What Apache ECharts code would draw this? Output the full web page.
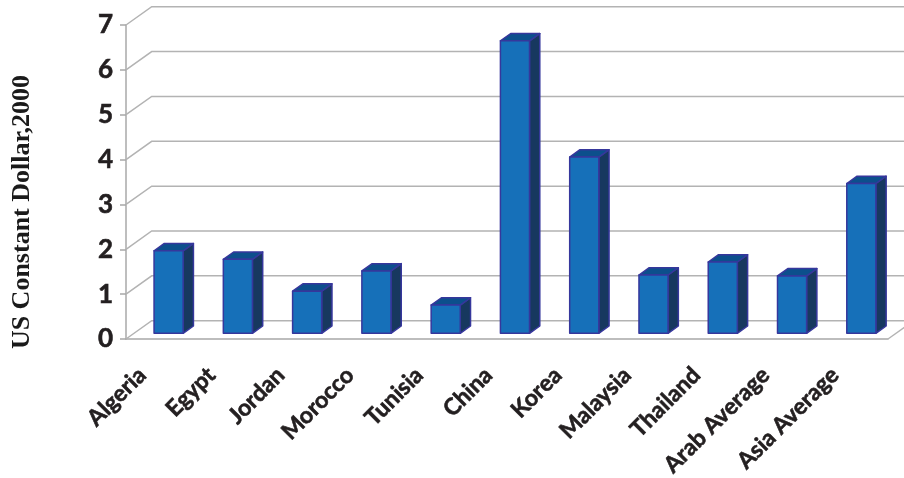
<!DOCTYPE html>
<html>
<head>
<meta charset="utf-8">
<title>US Constant Dollar, 2000</title>
<script src="https://cdn.jsdelivr.net/npm/echarts@6/dist/echarts.min.js"></script>
<style>
    html, body { margin: 0; padding: 0; background: #fff; }
    #chart { width: 904px; height: 478px; }
</style>
</head>
<body>
<div id="chart"></div>
<script>
// data
const categories = ['Algeria', 'Egypt', 'Jordan', 'Morocco', 'Tunisia', 'China',
    'Korea', 'Malaysia', 'Thailand', 'Arab Average', 'Asia Average'];
const values = [1.84, 1.65, 0.94, 1.39, 0.63, 6.52, 3.93, 1.30, 1.59, 1.28, 3.34];
const yTicks = [0, 1, 2, 3, 4, 5, 6, 7];

// fake 3D: offset of the back wall from the front plane
const DEPTH_X = 25.7;
const DEPTH_Y = -18.3;
const BAR_FRONT = 0.31;   // depth fraction of the bar's front face
const BAR_DEPTH = 0.40;   // depth fraction taken by the bar itself
const BAR_WIDTH = 0.42;   // share of a category band

const colors = {
    front: '#1670b9',
    side: '#17385f',
    top: '#0c4f8c',
    edge: '#36379c',
    grid: '#b3b3b3',
    axis: '#a8a8a8',
    text: '#231f20'
};

const chart = echarts.init(document.getElementById('chart'));

// gridlines on the back wall, joined to the front axis by a diagonal
function renderWall(params, api) {
    const v = api.value(1);
    const cs = params.coordSys;
    const y = api.coord([0, v])[1];
    const children = [{
        type: 'polyline',
        shape: { points: [[cs.x, y], [cs.x + DEPTH_X, y + DEPTH_Y], [cs.x + cs.width + DEPTH_X, y + DEPTH_Y]] },
        style: { stroke: colors.grid, lineWidth: 1.5, fill: null }
    }];
    if (v === 0) {
        // floor edge on the right
        children.push({
            type: 'line',
            shape: { x1: cs.x + cs.width, y1: y, x2: cs.x + cs.width + DEPTH_X, y2: y + DEPTH_Y },
            style: { stroke: colors.grid, lineWidth: 1.5 }
        });
    }
    return { type: 'group', children: children };
}

function renderBar(params, api) {
    const idx = api.value(0);
    const base = api.coord([idx, 0]);
    const top = api.coord([idx, api.value(1)]);
    const bw = api.size([1, 0])[0] * BAR_WIDTH;
    const ox = DEPTH_X * BAR_FRONT, oy = DEPTH_Y * BAR_FRONT;
    const dx = DEPTH_X * BAR_DEPTH, dy = DEPTH_Y * BAR_DEPTH;
    const xl = base[0] - bw / 2 + ox, xr = base[0] + bw / 2 + ox;
    const yt = top[1] + oy, yb = base[1] + oy;
    const edge = { stroke: colors.edge, lineWidth: 1.5, lineJoin: 'round' };
    return {
        type: 'group',
        children: [
            {
                type: 'polygon',
                shape: { points: [[xr, yt], [xr + dx, yt + dy], [xr + dx, yb + dy], [xr, yb]] },
                style: Object.assign({ fill: colors.side }, edge)
            },
            {
                type: 'polygon',
                shape: { points: [[xl, yt], [xl + dx, yt + dy], [xr + dx, yt + dy], [xr, yt]] },
                style: Object.assign({ fill: colors.top }, edge)
            },
            {
                type: 'rect',
                shape: { x: xl, y: yt, width: xr - xl, height: yb - yt },
                style: Object.assign({ fill: colors.front }, edge)
            }
        ]
    };
}

const option = {
    animation: false,
    backgroundColor: '#fff',
    textStyle: { fontFamily: 'Lato, sans-serif' },
    grid: { left: 126, right: 16, top: 25, bottom: 139, outerBoundsMode: 'none', containLabel: false },
    xAxis: {
        type: 'category',
        data: categories,
        axisLine: { lineStyle: { color: colors.axis, width: 1.5 } },
        axisTick: { length: 6, lineStyle: { color: colors.axis, width: 1.5 } },
        axisLabel: {
            interval: 0,
            rotate: 45,
            margin: 14,
            padding: [0, 26, 0, 0],
            color: colors.text,
            fontSize: 23,
            fontWeight: 'bold',
            fontFamily: 'Lato',
            textBorderColor: colors.text,
            textBorderWidth: 0.6
        }
    },
    yAxis: {
        type: 'value',
        min: 0,
        max: 7,
        interval: 1,
        axisLine: { show: true, lineStyle: { color: colors.axis, width: 1.5 } },
        axisTick: { show: true, length: 6, lineStyle: { color: colors.axis, width: 1.5 } },
        splitLine: { show: false },
        axisLabel: {
            margin: 13,
            color: colors.text,
            fontSize: 26,
            fontWeight: 'bold',
            fontFamily: 'Lato',
            textBorderColor: colors.text,
            textBorderWidth: 0.6
        }
    },
    graphic: [{
        type: 'text',
        x: 22,
        y: 212,
        rotation: Math.PI / 2,
        style: {
            text: 'US Constant Dollar,2000',
            fill: '#1a1a1a',
            font: 'bold 26px "Liberation Serif", serif',
            textAlign: 'center',
            textVerticalAlign: 'middle'
        }
    }],
    series: [
        {
            type: 'custom',
            name: 'wall',
            z: 1,
            silent: true,
            renderItem: renderWall,
            data: yTicks.map(t => [0, t])
        },
        {
            type: 'custom',
            name: 'US Constant Dollar,2000',
            z: 3,
            renderItem: renderBar,
            data: values.map((v, i) => [i, v])
        }
    ]
};

chart.setOption(option);
</script>
</body>
</html>
